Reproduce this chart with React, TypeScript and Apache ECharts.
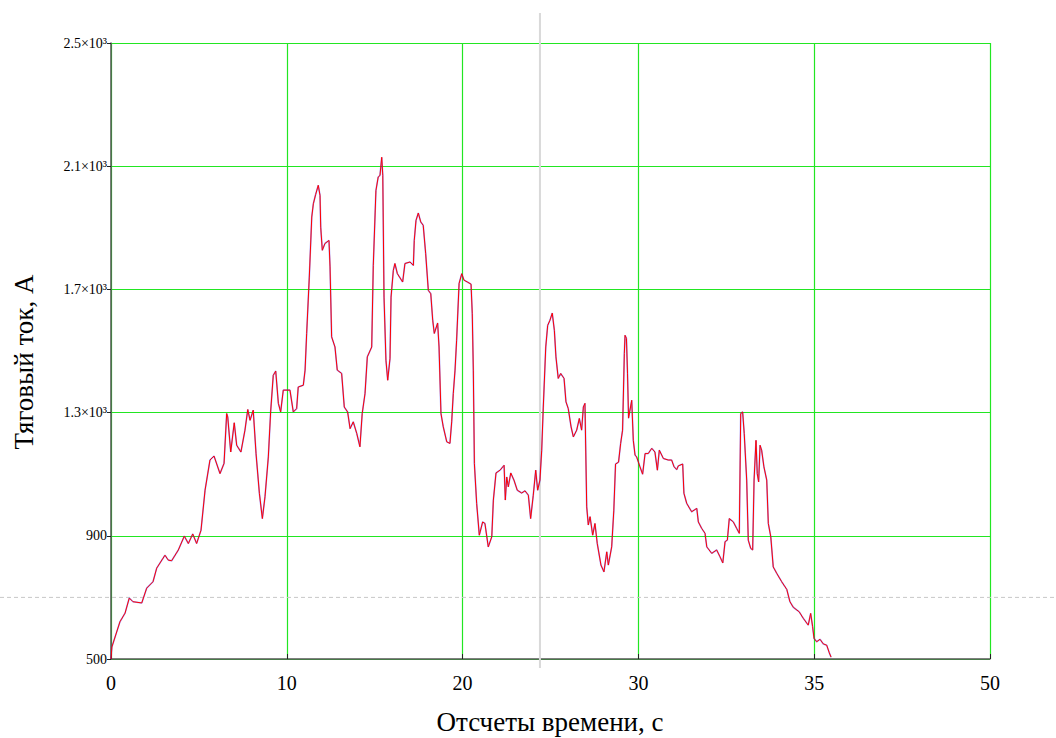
import React, { useEffect, useRef } from "react";
import * as echarts from "echarts";

// Time samples, s (as plotted)
const timeS: number[] = [
  0, 0.05, 0.51, 0.80, 1.04, 1.25, 1.75, 2.03, 2.39, 2.60,
  3.07, 3.26, 3.45, 3.83, 4.17, 4.40, 4.65, 4.87, 5.12, 5.35,
  5.63, 5.86, 6.20, 6.43, 6.58, 6.64, 6.81, 7.01, 7.15, 7.39,
  7.62, 7.78, 7.91, 8.09, 8.25, 8.44, 8.61, 8.76, 8.95, 9.08,
  9.23, 9.37, 9.52, 9.65, 9.80, 10.18, 10.37, 10.56, 10.65, 10.94,
  11.04, 11.13, 11.28, 11.42, 11.51, 11.64, 11.79, 11.89, 11.93, 12.02,
  12.17, 12.40, 12.46, 12.55, 12.74, 12.87, 13.12, 13.27, 13.46, 13.60,
  13.78, 13.98, 14.16, 14.29, 14.45, 14.58, 14.83, 14.92, 15.07, 15.20,
  15.30, 15.40, 15.46, 15.53, 15.64, 15.74, 15.87, 15.93, 16.06, 16.15,
  16.29, 16.59, 16.72, 17.01, 17.20, 17.25, 17.35, 17.48, 17.62, 17.76,
  17.90, 18.05, 18.19, 18.30, 18.39, 18.58, 18.66, 18.77, 18.90, 19.10,
  19.28, 19.38, 19.47, 19.57, 19.66, 19.80, 19.95, 20.08, 20.27, 20.48,
  20.55, 20.61, 20.67, 20.80, 20.95, 21.14, 21.27, 21.46, 21.66, 21.75,
  21.90, 22.13, 22.36, 22.43, 22.51, 22.60, 22.74, 22.92, 23.11, 23.36,
  23.55, 23.74, 23.87, 24.02, 24.16, 24.27, 24.40, 24.50, 24.59, 24.73,
  24.84, 24.97, 25.10, 25.22, 25.31, 25.44, 25.58, 25.77, 25.88, 26.01,
  26.17, 26.30, 26.49, 26.64, 26.77, 26.87, 26.96, 27.06, 27.15, 27.25,
  27.40, 27.53, 27.66, 27.87, 28.04, 28.20, 28.29, 28.48, 28.60, 28.70,
  28.87, 28.99, 29.10, 29.20, 29.24, 29.32, 29.38, 29.44, 29.62, 29.71,
  29.81, 29.90, 30.09, 30.24, 30.38, 30.56, 30.76, 30.94, 31.08, 31.19,
  31.42, 31.70, 31.89, 32.03, 32.18, 32.27, 32.52, 32.59, 32.75, 33.03,
  33.32, 33.41, 33.60, 33.79, 33.89, 34.17, 34.45, 34.64, 34.80, 34.93,
  35.06, 35.17, 35.40, 35.59, 35.74, 35.82, 35.93, 36.02, 36.16, 36.25,
  36.39, 36.50, 36.58, 36.69, 36.76, 36.84, 36.92, 37.01, 37.14, 37.30,
  37.39, 37.53, 37.67, 37.87, 38.15, 38.44, 38.62, 38.81, 39.15, 39.38,
  39.66, 39.80, 39.91, 39.99, 40.14, 40.33, 40.52, 40.71, 40.86, 40.96,
];

// Traction current, A
const currentA: number[] = [
  500, 539, 621, 649, 698, 686, 682, 730, 751, 795,
  837, 821, 819, 854, 899, 875, 906, 875, 918, 1048,
  1146, 1159, 1102, 1135, 1297, 1286, 1172, 1267, 1194, 1172,
  1243, 1310, 1275, 1308, 1167, 1038, 956, 1027, 1156, 1302,
  1421, 1435, 1330, 1302, 1373, 1373, 1302, 1313, 1383, 1389,
  1438, 1557, 1740, 1935, 1978, 2008, 2038, 2005, 1902, 1827,
  1849, 1859, 1773, 1546, 1513, 1438, 1427, 1318, 1302, 1248,
  1270, 1232, 1189, 1297, 1362, 1481, 1513, 1778, 2021, 2065,
  2070, 2129, 2070, 1675, 1470, 1405, 1475, 1675, 1762, 1784,
  1751, 1724, 1784, 1789, 1778, 1859, 1924, 1948, 1919, 1908,
  1816, 1697, 1686, 1600, 1557, 1591, 1513, 1297, 1254, 1205,
  1200, 1270, 1362, 1438, 1535, 1719, 1751, 1730, 1724, 1717,
  1621, 1438, 1135, 1005, 902, 945, 940, 864, 897, 1016,
  1104, 1113, 1129, 1016, 1091, 1059, 1104, 1081, 1048, 1039,
  1046, 1032, 956, 1032, 1113, 1048, 1081, 1178, 1318, 1513,
  1583, 1600, 1623, 1567, 1481, 1411, 1427, 1411, 1335, 1313,
  1254, 1221, 1243, 1281, 1243, 1318, 1330, 994, 935, 962,
  902, 940, 875, 805, 783, 848, 805, 864, 981, 1133,
  1139, 1200, 1243, 1492, 1551, 1541, 1428, 1282, 1340, 1210,
  1162, 1156, 1124, 1100, 1167, 1167, 1184, 1172, 1113, 1178,
  1151, 1146, 1146, 1124, 1115, 1127, 1133, 1038, 1005, 978,
  989, 945, 924, 908, 864, 843, 854, 832, 812, 881,
  886, 956, 945, 924, 908, 1297, 1302, 1232, 1081, 886,
  859, 854, 1081, 1210, 1102, 1075, 1194, 1178, 1124, 1081,
  940, 897, 799, 778, 751, 726, 686, 668, 653, 632,
  610, 648, 605, 567, 556, 564, 549, 545, 520, 506,
];

const xTickValues: number[] = [0, 10, 20, 30, 40, 50];
const xTickLabels: string[] = ["0", "10", "20", "30", "35", "50"];
const yTickValues: number[] = [500, 900, 1300, 1700, 2100, 2500];
const yTickLabels: string[] = ["500", "900", "1.3×10³", "1.7×10³", "2.1×10³", "2.5×10³"];

// Cursor positions (Mathcad-style trace cursor)
const cursorX = 24.4;
const cursorY = 700;

const FONT = "'Liberation Serif', 'Times New Roman', serif";

export default function App() {
  const ref = useRef<HTMLDivElement>(null);

  useEffect(() => {
    document.body.style.margin = "0";
    if (!ref.current) return;
    const chart = echarts.init(ref.current, undefined, { renderer: "svg" });
    const n = Math.min(timeS.length, currentA.length);
    const data: [number, number][] = [];
    for (let i = 0; i < n; i++) data.push([timeS[i], currentA[i]]);

    chart.setOption({
      animation: false,
      backgroundColor: "#ffffff",
      grid: { left: 111, right: 66, top: 43, bottom: 79, containLabel: false },
      xAxis: {
        type: "value",
        min: 0,
        max: 50,
        interval: 10,
        axisLine: { show: true, onZero: false, lineStyle: { color: "#555555", width: 1.5 } },
        axisTick: { show: true, inside: true, length: 5, lineStyle: { color: "#222222" } },
        splitLine: { show: true, lineStyle: { color: "#22e622", width: 1.2 } },
        axisLabel: {
          fontFamily: FONT,
          fontSize: 20,
          color: "#000000",
          margin: 14,
          formatter: (v: number) => {
            const i = xTickValues.indexOf(v);
            return i >= 0 ? xTickLabels[i] : "";
          },
        },
      },
      yAxis: {
        type: "value",
        min: 500,
        max: 2500,
        axisLine: { show: true, onZero: false, lineStyle: { color: "#555555", width: 1.5 } },
        axisTick: {
          show: true,
          inside: false,
          length: 4,
          lineStyle: { color: "#222222" },
          customValues: yTickValues,
        },
        splitLine: { show: true, lineStyle: { color: "#22e622", width: 1.2 } },
        axisLabel: {
          fontFamily: FONT,
          fontSize: 14,
          color: "#000000",
          margin: 4,
          customValues: yTickValues,
          formatter: (v: number) => {
            const i = yTickValues.indexOf(v);
            return i >= 0 ? yTickLabels[i] : "";
          },
        },
      },
      series: [
        {
          type: "line",
          data,
          showSymbol: false,
          lineStyle: { color: "#2a2aff", width: 1.6, opacity: 0.45 },
          z: 2,
        },
        {
          type: "line",
          data,
          showSymbol: false,
          lineStyle: { color: "#ff0000", width: 1 },
          z: 3,
        },
      ],
    });

    const p = chart.convertToPixel({ gridIndex: 0 }, [cursorX, cursorY]) as number[];
    chart.setOption({
      graphic: [
        {
          type: "line",
          shape: { x1: p[0], y1: 13, x2: p[0], y2: 668 },
          style: { stroke: "#d9d9d9", lineWidth: 2 },
          z: 1,
        },
        {
          type: "line",
          shape: { x1: 0, y1: p[1], x2: 1056, y2: p[1] },
          style: { stroke: "#c8c8c8", lineWidth: 1, lineDash: [4, 3] },
          z: 1,
        },
        {
          type: "text",
          x: 24,
          y: 362,
          rotation: Math.PI / 2,
          style: {
            text: "Тяговый ток, А",
            font: `27px ${FONT}`,
            fill: "#000000",
            align: "center",
            verticalAlign: "middle",
          },
        },
        {
          type: "text",
          x: 550,
          y: 722,
          style: {
            text: "Отсчеты времени, с",
            font: `27px ${FONT}`,
            fill: "#000000",
            align: "center",
            verticalAlign: "middle",
          },
        },
      ],
    });

    return () => chart.dispose();
  }, []);

  return <div ref={ref} style={{ width: 1056, height: 738 }} />;
}
